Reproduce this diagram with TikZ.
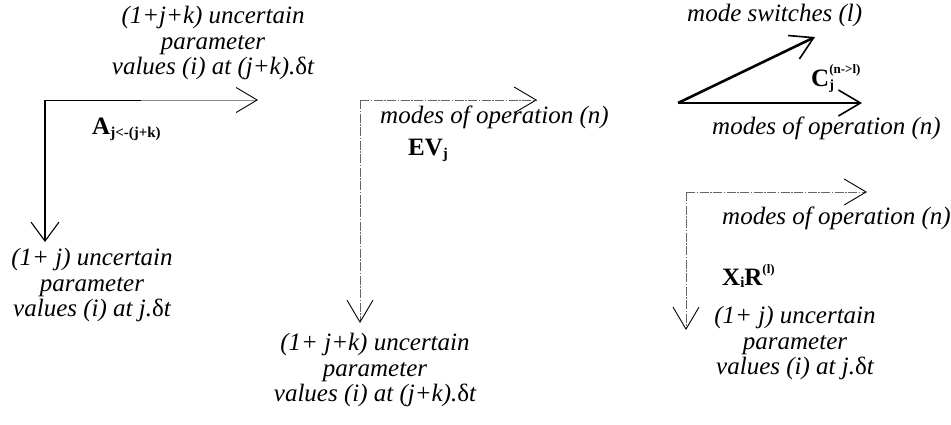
\documentclass[tikz,border=0pt]{standalone}
\usepackage{fontspec}
\setmainfont{Liberation Serif}
\usetikzlibrary{arrows.meta,calc}
\begin{document}
\begin{tikzpicture}[x=1pt,y=-1pt,
  lbl/.style={font=\fontsize{25}{25.5}\selectfont\itshape, align=center, inner sep=0pt},
  one/.style={font=\fontsize{25}{25.5}\selectfont\itshape, inner sep=0pt},
  sym/.style={font=\fontsize{25}{25}\selectfont\bfseries, inner sep=0pt},
  thickax/.style={-{Straight Barb[length=19pt,width=28pt,line width=1.1pt]}, line width=2pt},
  thinax/.style={-{Straight Barb[length=21pt,width=25pt,line width=0.9pt,color=black]}, line width=0.9pt, black!45},
  dashax/.style={-{Straight Barb[length=22pt,width=26pt,line width=0.9pt,color=black]}, line width=0.9pt, black!60,
                 dash pattern=on 9pt off 1.5pt on 1.5pt off 1.5pt},
  boldax/.style={-{Straight Barb[length=22pt,width=26pt,line width=1.6pt]}, line width=2.6pt},
]
\useasboundingbox (0,0) rectangle (951,424);

% left diagram
\coordinate (L0) at (45,100);
\coordinate (Lh) at (258,100);
\coordinate (Lv) at (45,242);
\draw[thinax] (L0) -- (Lh);
\draw[line width=0.9pt] (L0) -- ($(L0)!0.45!(Lh)$);
\draw[thickax] (L0) -- (Lv);
\node[lbl, anchor=north] (ltop) at (213,6) {(1+j+k) uncertain\\parameter\\values (i) at (j+k).{\upshape δ}t};
\node[lbl, anchor=north] (lbot) at (92,248) {(1+ j) uncertain\\parameter\\values (i) at j.{\upshape δ}t};
\node[sym, anchor=base west] (A) at (92,134) {A\raisebox{-3pt}{\fontsize{15}{15}\selectfont j<-(j+k)}};

% middle diagram
\coordinate (M0) at (360,100);
\coordinate (Mh) at (537,100);
\coordinate (Mv) at (360,323);
\draw[dashax] (M0) -- (Mh);
\draw[dashax] (M0) -- (Mv);
\node[one, anchor=base west] (mmodes) at (380,123) {modes of operation (n)};
\node[sym, anchor=base west] (EV) at (408,155) {EV\raisebox{-3pt}{\fontsize{15}{15}\selectfont j}};
\node[lbl, anchor=north] (mbot) at (375,333) {(1+ j+k) uncertain\\parameter\\values (i) at (j+k).{\upshape δ}t};

% right top diagram
\coordinate (T0) at (678,103);
\coordinate (Th) at (862,103);
\coordinate (Ts) at (815,37);
\draw[boldax] (T0) -- (Ts);
\draw[boldax] (T0) -- (Th);
\node[one, anchor=base west] (switch) at (687,21) {mode switches (l)};
\node[one, anchor=base west] (tmodes) at (712,134) {modes of operation (n)};
\node[sym, anchor=base west] (C) at (811,86) {C\rlap{\raisebox{-3pt}{\fontsize{14}{14}\selectfont j}}\raisebox{13pt}{\fontsize{13}{13}\selectfont (n->l)}};

% right bottom diagram
\coordinate (R0) at (686,192);
\coordinate (Rh) at (867,192);
\coordinate (Rv) at (686,330);
\draw[dashax] (R0) -- (Rh);
\draw[dashax] (R0) -- (Rv);
\node[one, anchor=base west] (rmodes) at (722,224) {modes of operation (n)};
\node[sym, anchor=base west] (XR) at (722,285) {X\raisebox{-2pt}{\fontsize{15}{15}\selectfont i}R\raisebox{12pt}{\fontsize{13}{13}\selectfont (l)}};
\node[lbl, anchor=north] (rbot) at (795,306) {(1+ j) uncertain\\parameter\\values (i) at j.{\upshape δ}t};
\end{tikzpicture}
\end{document}
